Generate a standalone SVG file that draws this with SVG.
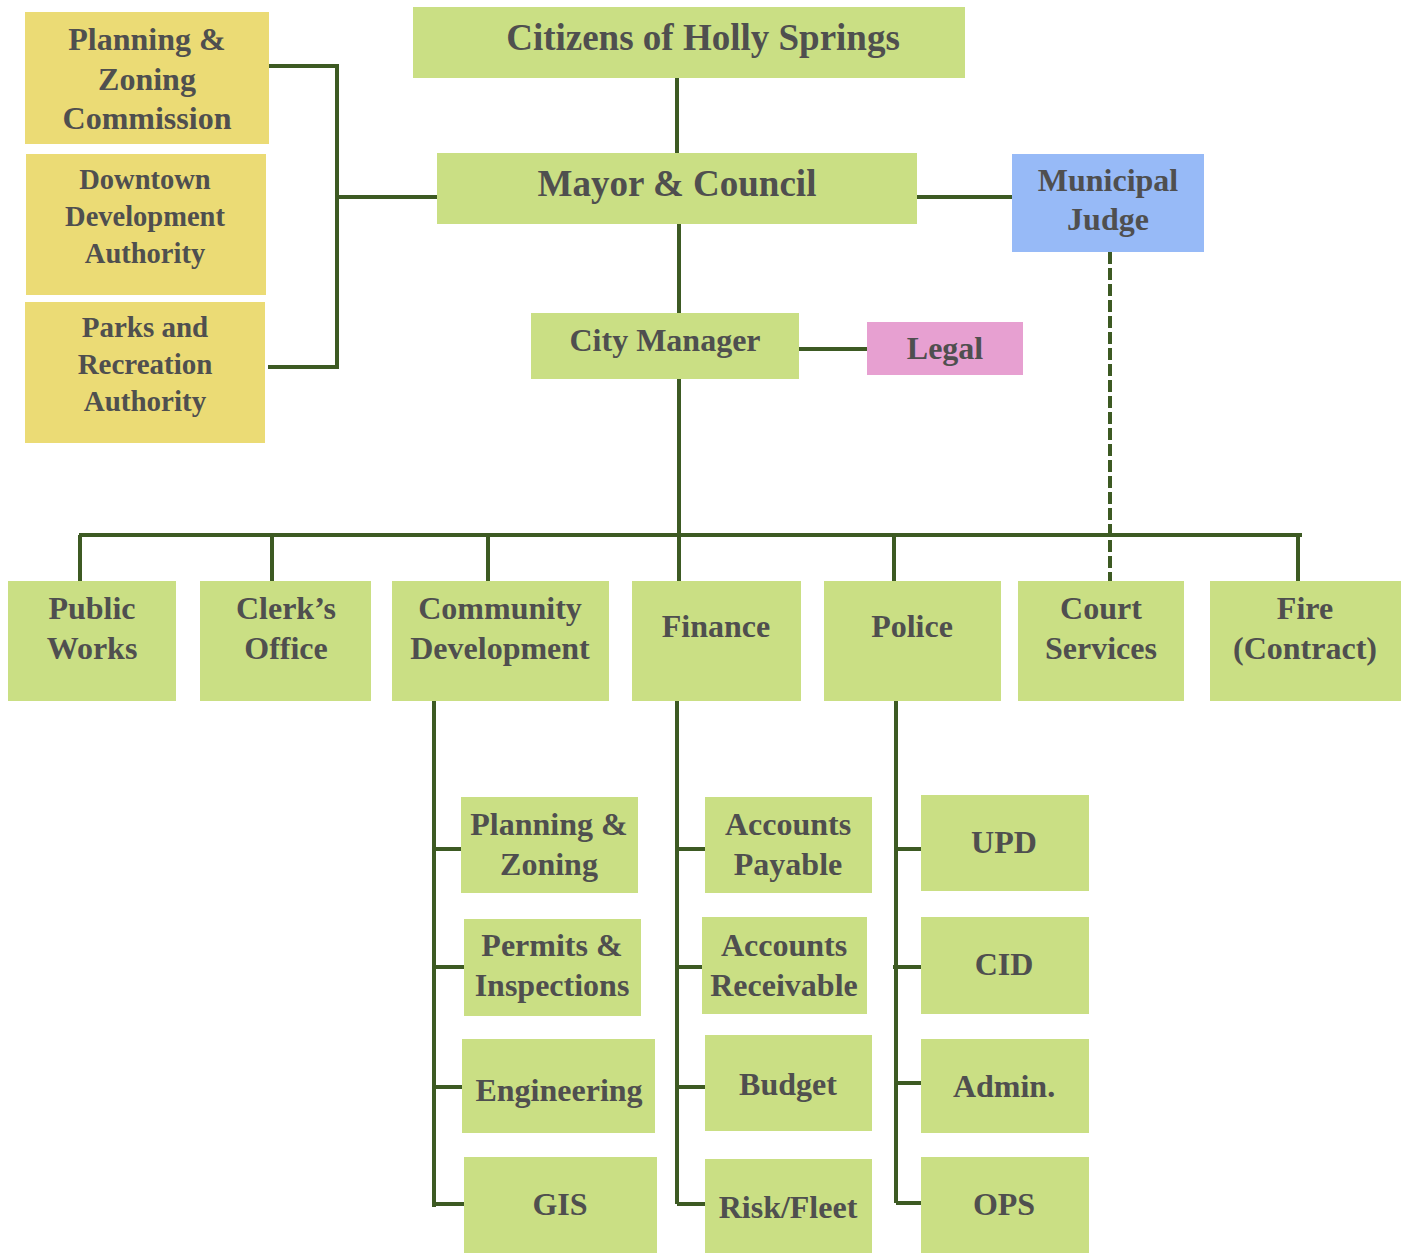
<svg xmlns="http://www.w3.org/2000/svg" width="1408" height="1253" viewBox="0 0 1408 1253">
<style>
.g{fill:#CADF84}
.y{fill:#EBDB75}
.b{fill:#97BAF7}
.p{fill:#E7A0D1}
text{font-family:"Liberation Serif","Times New Roman",serif;font-weight:bold;fill:#4F4F4F;text-anchor:middle}
.l{stroke:#3D5A23;stroke-width:4;fill:none}
.d{stroke:#3D5A23;stroke-width:4;fill:none;stroke-dasharray:12 4}
</style>
<rect width="1408" height="1253" fill="#fff"/>
<g id="connectors">
<path class="l" d="M269 66H337V367H268M337 197H437"/>
<path class="l" d="M677 78V153M679 224V313M917 197H1015M799 349H867M679 379V581"/>
<path class="l" d="M79 535H1302M80 535V581M272 535V581M488 535V581M894 535V581M1298 535V581"/>
<path class="d" d="M1110 252V581"/>
<path class="l" d="M434 701V1207M434 849H461M434 967H464M434 1087H462M434 1204H464"/>
<path class="l" d="M677 701V1204M677 849H705M677 967H702M677 1087H705M677 1204H705"/>
<path class="l" d="M896 701V1203M896 849H921M893 967H921M896 1083H921M896 1203H921"/>
</g>
<g id="n-pzc"><rect class="y" x="25" y="12" width="244" height="132"/><text font-size="32"><tspan x="147" y="50">Planning &amp;</tspan><tspan x="147" y="90">Zoning</tspan><tspan x="147" y="129">Commission</tspan></text></g>
<g id="n-dda"><rect class="y" x="26" y="154" width="240" height="141"/><text font-size="28.5"><tspan x="145" y="189">Downtown</tspan><tspan x="145" y="226">Development</tspan><tspan x="145" y="263">Authority</tspan></text></g>
<g id="n-pra"><rect class="y" x="25" y="302" width="240" height="141"/><text font-size="29"><tspan x="145" y="337">Parks and</tspan><tspan x="145" y="374">Recreation</tspan><tspan x="145" y="411">Authority</tspan></text></g>
<g id="n-citizens"><rect class="g" x="413" y="7" width="552" height="71"/><text font-size="37" x="703" y="50">Citizens of Holly Springs</text></g>
<g id="n-mayor"><rect class="g" x="437" y="153" width="480" height="71"/><text font-size="37" x="677" y="196">Mayor &amp; Council</text></g>
<g id="n-judge"><rect class="b" x="1012" y="154" width="192" height="98"/><text font-size="32"><tspan x="1108" y="191">Municipal</tspan><tspan x="1108" y="230">Judge</tspan></text></g>
<g id="n-cm"><rect class="g" x="531" y="313" width="268" height="66"/><text font-size="32" x="665" y="351">City Manager</text></g>
<g id="n-legal"><rect class="p" x="867" y="322" width="156" height="53"/><text font-size="32" x="945" y="359">Legal</text></g>
<g id="n-pw"><rect class="g" x="8" y="581" width="168" height="120"/><text font-size="32"><tspan x="92" y="619">Public</tspan><tspan x="92" y="659">Works</tspan></text></g>
<g id="n-clerk"><rect class="g" x="200" y="581" width="171" height="120"/><text font-size="32"><tspan x="286" y="619">Clerk’s</tspan><tspan x="286" y="659">Office</tspan></text></g>
<g id="n-cd"><rect class="g" x="392" y="581" width="217" height="120"/><text font-size="32"><tspan x="500" y="619">Community</tspan><tspan x="500" y="659">Development</tspan></text></g>
<g id="n-fin"><rect class="g" x="632" y="581" width="169" height="120"/><text font-size="32" x="716" y="637">Finance</text></g>
<g id="n-police"><rect class="g" x="824" y="581" width="177" height="120"/><text font-size="32" x="912" y="637">Police</text></g>
<g id="n-court"><rect class="g" x="1018" y="581" width="166" height="120"/><text font-size="32"><tspan x="1101" y="619">Court</tspan><tspan x="1101" y="659">Services</tspan></text></g>
<g id="n-fire"><rect class="g" x="1210" y="581" width="191" height="120"/><text font-size="32"><tspan x="1305" y="619">Fire</tspan><tspan x="1305" y="659">(Contract)</tspan></text></g>
<g id="n-pz"><rect class="g" x="461" y="797" width="177" height="96"/><text font-size="32"><tspan x="549" y="835">Planning &amp;</tspan><tspan x="549" y="875">Zoning</tspan></text></g>
<g id="n-permits"><rect class="g" x="464" y="919" width="177" height="97"/><text font-size="32"><tspan x="552" y="956">Permits &amp;</tspan><tspan x="552" y="996">Inspections</tspan></text></g>
<g id="n-eng"><rect class="g" x="462" y="1039" width="193" height="94"/><text font-size="32" x="559" y="1101">Engineering</text></g>
<g id="n-gis"><rect class="g" x="464" y="1157" width="193" height="96"/><text font-size="32" x="560" y="1215">GIS</text></g>
<g id="n-ap"><rect class="g" x="705" y="797" width="167" height="96"/><text font-size="32"><tspan x="788" y="835">Accounts</tspan><tspan x="788" y="875">Payable</tspan></text></g>
<g id="n-ar"><rect class="g" x="702" y="917" width="165" height="97"/><text font-size="32"><tspan x="784" y="956">Accounts</tspan><tspan x="784" y="996">Receivable</tspan></text></g>
<g id="n-budget"><rect class="g" x="705" y="1035" width="167" height="96"/><text font-size="32" x="788" y="1095">Budget</text></g>
<g id="n-risk"><rect class="g" x="705" y="1159" width="167" height="94"/><text font-size="32" x="788" y="1218">Risk/Fleet</text></g>
<g id="n-upd"><rect class="g" x="921" y="795" width="168" height="96"/><text font-size="32" x="1004" y="853">UPD</text></g>
<g id="n-cid"><rect class="g" x="921" y="917" width="168" height="97"/><text font-size="32" x="1004" y="975">CID</text></g>
<g id="n-admin"><rect class="g" x="921" y="1039" width="168" height="94"/><text font-size="32" x="1004" y="1097">Admin.</text></g>
<g id="n-ops"><rect class="g" x="921" y="1157" width="168" height="96"/><text font-size="32" x="1004" y="1215">OPS</text></g>
</svg>
